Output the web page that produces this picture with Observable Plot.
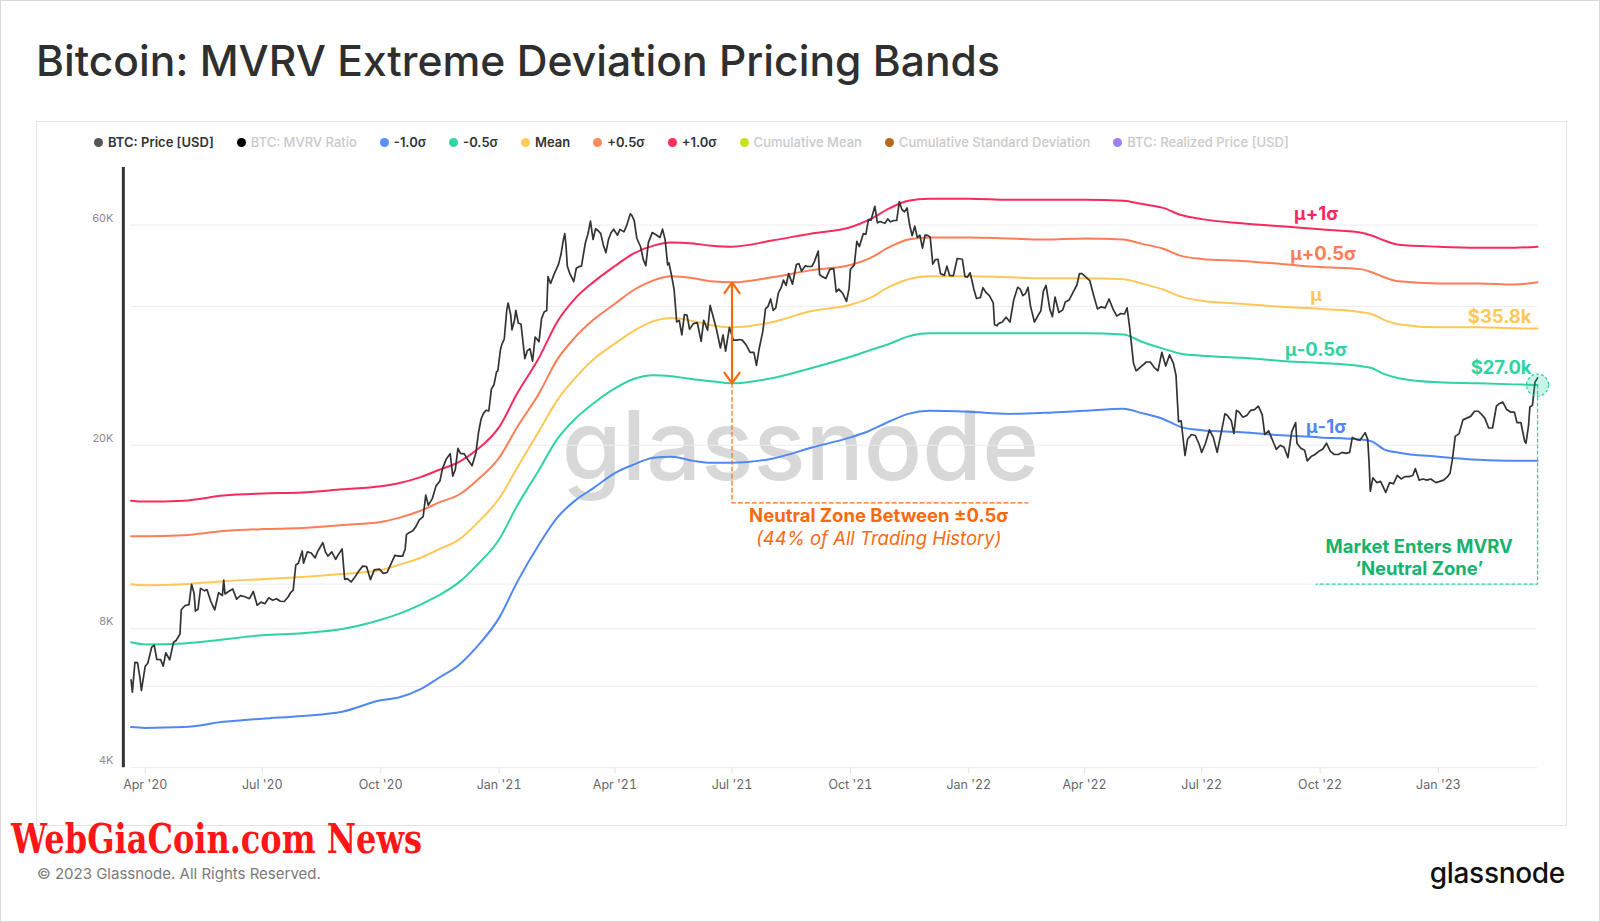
<!DOCTYPE html>
<html>
<head>
<meta charset="utf-8">
<script src="https://cdn.jsdelivr.net/npm/d3@7"></script>
<script src="https://cdn.jsdelivr.net/npm/@observablehq/plot@0.6"></script>
<style>
  html, body { margin: 0; padding: 0; background: #fff; }
  #page { position: relative; width: 1600px; height: 922px; overflow: hidden; background: #fff; box-sizing: border-box; border: 1px solid #d8d8d8; font-family: Inter, "Noto Sans", sans-serif; }
  #title { position: absolute; left: 35px; top: 35px; font-size: 42.6px; line-height: 50px; font-weight: 500; color: #2f2f2f; white-space: nowrap; }
  #panel { position: absolute; left: 35px; top: 120px; width: 1531px; height: 705px; border: 1px solid #e4e4e4; box-sizing: border-box; }
  #legend { position: absolute; left: 93px; top: 133px; height: 16px; display: flex; align-items: center; font-size: 13px; font-weight: 600; white-space: nowrap; }
  #legend .item { display: flex; align-items: center; margin-right: 23px; }
  #legend .dot { width: 9px; height: 9px; border-radius: 50%; margin-right: 5px; }
  #legend .off { color: #c9c9c9; font-weight: 500; }
  #legend .on { color: #333; }
  #chart { position: absolute; left: 0; top: 150px; }
  #brand { position: absolute; left: 0; top: 806px; overflow: visible; }
  #copy { position: absolute; left: 36px; top: 864px; font-size: 15px; line-height: 18px; color: #7a7a7a; }
  #logo { position: absolute; right: 34px; top: 856px; font-size: 28px; line-height: 32px; font-weight: 500; color: #111; letter-spacing: -0.3px; }
</style>
</head>
<body>
<div id="page">
  <div id="title">Bitcoin: MVRV Extreme Deviation Pricing Bands</div>
  <div id="panel"></div>
  <div id="legend"></div>
  <div id="chart"></div>
  <svg id="brand" width="560" height="62"><text x="10" y="46" textLength="411" lengthAdjust="spacingAndGlyphs" font-family="DejaVu Serif, serif" font-weight="bold" font-size="41" fill="#ff1616">WebGiaCoin.com News</text></svg>
  <div id="copy">© 2023 Glassnode. All Rights Reserved.</div>
  <div id="logo">glassnode</div>
</div>
<script>
// ---------- legend ----------
const legendLabels = ["BTC: Price [USD]", "BTC: MVRV Ratio", "-1.0σ", "-0.5σ", "Mean", "+0.5σ", "+1.0σ", "Cumulative Mean", "Cumulative Standard Deviation", "BTC: Realized Price [USD]"];
const legendColors = ["#555555", "#000000", "#5b8ff9", "#34d3a6", "#ffcb5e", "#ff8c5a", "#ff2d5f", "#c7e31a", "#b8681c", "#9d7ff8"];
const legendActive = [true, false, true, true, true, true, true, false, false, false];

// ---------- band data ----------
const bandDates = ["2020-03-21","2020-04-01","2020-05-01","2020-06-01","2020-07-01","2020-08-01","2020-09-01","2020-10-01","2020-10-15","2020-11-01","2020-11-15","2020-12-01","2020-12-15",
"2021-01-01","2021-01-15","2021-02-01","2021-02-15","2021-03-01","2021-03-15","2021-04-01","2021-04-15","2021-05-01","2021-05-15","2021-06-01","2021-06-15","2021-07-01","2021-08-01","2021-09-01","2021-10-01","2021-10-15","2021-11-01","2021-11-15","2021-12-01",
"2022-01-01","2022-02-01","2022-03-01","2022-04-01","2022-05-01","2022-05-15","2022-06-01","2022-06-15","2022-07-01","2022-08-01","2022-09-01","2022-10-01","2022-11-01","2022-11-10","2022-11-20","2022-12-01",
"2023-01-01","2023-02-01","2023-03-01","2023-03-19"];
const plus1 = [15170,15100,15170,15560,15720,15800,16050,16300,16550,17060,17680,18410,19570,
21890,25890,30940,36970,41570,45090,48920,51990,54160,54990,54710,54160,53880,55550,57570,59350,61500,65380,67750,68440,
68440,68100,68100,68100,67750,66720,65380,63090,61820,60570,59650,58750,57860,56990,55550,54430,
53880,53610,53610,53880];
const plus05 = [12700,12700,12760,13030,13160,13230,13430,13640,13920,14420,15020,15640,16800,
18790,21890,25890,30630,34260,37350,40520,43290,45550,46490,46020,45320,45090,46250,47930,49170,50690,53880,55840,56410,
56410,56120,55840,56120,55840,54710,53340,51470,50690,50180,49420,48670,48170,47440,46250,45320,
44860,44860,44630,45090];
const meanBand = [10000,9950,10000,10150,10250,10360,10520,10730,11010,11410,11890,12500,13570,
15330,17860,21450,24990,27950,30630,33230,35320,37160,37730,37160,36410,36040,36970,39100,40310,41570,44180,45780,46490,
46490,46250,46020,46020,45780,44860,43510,41990,41140,40520,39910,39500,38900,38510,37350,36600,
36040,36040,35860,35800];
const minus05 = [7480,7400,7440,7590,7750,7830,7990,8370,8620,9030,9450,10100,11010,
12500,14790,17680,20590,22800,24610,26560,27800,28380,28230,27800,27520,27240,27950,29410,31100,32060,33230,34430,34960,
34960,34960,34960,34960,34780,33570,32390,31580,31260,30940,30470,30160,29700,29410,28520,27950,
27380,27240,27100,27000];
const minus1 = [4900,4880,4900,5030,5110,5180,5290,5600,5680,5920,6260,6690,7330,
8450,10100,12190,13920,15170,16130,17410,18130,18790,18890,18500,18320,18320,18700,19770,20800,21450,22570,23390,23750,
23630,23390,23510,23750,23990,23510,22800,21890,21560,21340,21020,20800,20590,20390,19570,19270,
18890,18600,18500,18500];

// ---------- price data ----------
const price = [
["2020-03-21",6200],["2020-03-22",5830],["2020-03-24",6770],["2020-03-26",6760],["2020-03-28",6250],["2020-03-29",5880],["2020-04-01",6640],["2020-04-03",6740],["2020-04-06",7300],["2020-04-08",7370],["2020-04-10",6870],["2020-04-13",6860],["2020-04-15",6640],["2020-04-17",7100],["2020-04-20",6850],["2020-04-23",7480],["2020-04-25",7550],["2020-04-28",7790],["2020-04-29",8800],
["2020-05-02",8990],["2020-05-05",9030],["2020-05-07",9990],["2020-05-09",9540],["2020-05-10",8740],["2020-05-12",8820],["2020-05-14",9790],["2020-05-17",9670],["2020-05-19",9730],["2020-05-22",9170],["2020-05-25",8790],["2020-05-28",9580],["2020-05-31",9450],
["2020-06-01",10200],["2020-06-02",9520],["2020-06-05",9650],["2020-06-08",9760],["2020-06-11",9280],["2020-06-14",9440],["2020-06-17",9400],["2020-06-21",9300],["2020-06-24",9640],["2020-06-27",9000],["2020-06-30",9140],
["2020-07-03",9070],["2020-07-06",9340],["2020-07-09",9230],["2020-07-12",9300],["2020-07-15",9180],["2020-07-18",9170],["2020-07-21",9380],["2020-07-23",9590],["2020-07-25",9700],["2020-07-27",11000],["2020-07-29",11100],
["2020-08-01",11800],["2020-08-02",11100],["2020-08-05",11750],["2020-08-08",11680],["2020-08-11",11400],["2020-08-13",11770],["2020-08-17",12300],["2020-08-19",11750],["2020-08-21",11500],["2020-08-24",11750],["2020-08-27",11320],["2020-08-30",11700],
["2020-09-01",11920],["2020-09-03",10240],["2020-09-05",10280],["2020-09-08",10110],["2020-09-11",10360],["2020-09-14",10680],["2020-09-17",10940],["2020-09-20",10920],["2020-09-23",10230],["2020-09-26",10740],["2020-09-30",10780],
["2020-10-03",10550],["2020-10-06",10600],["2020-10-09",11060],["2020-10-12",11540],["2020-10-15",11500],["2020-10-18",11500],["2020-10-20",11920],["2020-10-21",12800],["2020-10-23",12930],["2020-10-26",13060],["2020-10-28",13280],["2020-10-31",13780],
["2020-11-03",14000],["2020-11-05",15590],["2020-11-07",14830],["2020-11-10",15300],["2020-11-13",16330],["2020-11-16",16730],["2020-11-18",17800],["2020-11-21",18680],["2020-11-24",19170],["2020-11-26",17150],["2020-11-28",17730],["2020-11-30",19700],
["2020-12-02",19210],["2020-12-05",19150],["2020-12-08",18550],["2020-12-11",18060],["2020-12-14",19270],["2020-12-16",21310],["2020-12-18",22800],["2020-12-20",23480],["2020-12-22",23820],["2020-12-24",23730],["2020-12-26",26460],["2020-12-28",27050],["2020-12-30",28840],["2020-12-31",29000],
["2021-01-02",32170],["2021-01-03",33000],["2021-01-05",33990],["2021-01-07",39370],["2021-01-08",40670],["2021-01-10",38360],["2021-01-11",35570],["2021-01-13",37370],["2021-01-14",39190],["2021-01-16",36770],["2021-01-18",36630],["2021-01-21",30820],["2021-01-23",32080],["2021-01-25",32370],["2021-01-27",30430],["2021-01-29",34320],
["2021-02-01",33540],["2021-02-03",37620],["2021-02-05",38900],["2021-02-07",39190],["2021-02-08",46400],["2021-02-10",44840],["2021-02-13",47170],["2021-02-16",49190],["2021-02-18",51680],["2021-02-20",55890],["2021-02-21",57500],["2021-02-22",54200],["2021-02-23",48900],["2021-02-25",47090],["2021-02-28",45240],
["2021-03-02",48380],["2021-03-04",48760],["2021-03-06",48880],["2021-03-09",54880],["2021-03-11",57330],["2021-03-13",61200],["2021-03-15",55850],["2021-03-17",58920],["2021-03-19",58340],["2021-03-21",57520],["2021-03-23",54340],["2021-03-25",52300],["2021-03-27",55860],["2021-03-29",57750],["2021-03-31",58800],
["2021-04-03",57060],["2021-04-05",58730],["2021-04-08",58010],["2021-04-10",59770],["2021-04-13",63500],["2021-04-14",63110],["2021-04-16",61340],["2021-04-18",56200],["2021-04-21",53790],["2021-04-23",50560],["2021-04-25",49000],["2021-04-27",54990],["2021-04-30",57800],
["2021-05-03",57200],["2021-05-06",56400],["2021-05-08",58800],["2021-05-10",55800],["2021-05-12",49200],["2021-05-13",49700],["2021-05-15",46700],["2021-05-17",43500],["2021-05-19",37000],["2021-05-21",37300],["2021-05-23",34700],["2021-05-25",38400],["2021-05-27",38300],["2021-05-29",35700],
["2021-06-01",36700],["2021-06-04",36900],["2021-06-07",33600],["2021-06-09",37300],["2021-06-12",35500],["2021-06-14",40200],["2021-06-16",38300],["2021-06-19",35600],["2021-06-22",32500],["2021-06-24",34700],["2021-06-26",32000],["2021-06-29",36000],
["2021-07-02",33800],["2021-07-05",33800],["2021-07-07",33900],["2021-07-09",33800],["2021-07-12",33000],["2021-07-15",31800],["2021-07-18",31800],["2021-07-20",29800],["2021-07-22",32300],["2021-07-25",35400],["2021-07-27",39500],["2021-07-29",40000],["2021-07-31",41500],
["2021-08-02",39200],["2021-08-04",39700],["2021-08-06",42800],["2021-08-08",43800],["2021-08-10",45600],["2021-08-12",44400],["2021-08-14",47100],["2021-08-17",44700],["2021-08-20",49300],["2021-08-22",49500],["2021-08-24",47700],["2021-08-27",49000],["2021-08-29",48800],
["2021-09-01",48800],["2021-09-03",50000],["2021-09-06",52700],["2021-09-07",46900],["2021-09-09",46400],["2021-09-12",46000],["2021-09-15",48100],["2021-09-18",48300],["2021-09-20",43000],["2021-09-22",43600],["2021-09-25",42700],["2021-09-28",41000],["2021-09-30",43800],
["2021-10-01",48100],["2021-10-04",49200],["2021-10-06",55300],["2021-10-08",53900],["2021-10-11",57500],["2021-10-13",57300],["2021-10-15",61700],["2021-10-17",61500],["2021-10-20",65900],["2021-10-22",60700],["2021-10-24",61100],["2021-10-26",60800],["2021-10-28",60600],["2021-10-30",61900],
["2021-11-01",61000],["2021-11-04",61400],["2021-11-06",61400],["2021-11-08",67500],["2021-11-10",64900],["2021-11-12",64100],["2021-11-14",65400],["2021-11-16",60100],["2021-11-18",56900],["2021-11-20",59700],["2021-11-22",56400],["2021-11-24",57100],["2021-11-26",53500],["2021-11-28",57100],["2021-11-30",57000],
["2021-12-02",56500],["2021-12-04",49400],["2021-12-06",50500],["2021-12-08",50600],["2021-12-10",47100],["2021-12-13",46700],["2021-12-15",48900],["2021-12-17",46700],["2021-12-20",46600],["2021-12-23",50800],["2021-12-27",50600],["2021-12-29",46400],["2021-12-31",46300],
["2022-01-02",47300],["2022-01-05",43500],["2022-01-07",41600],["2022-01-10",41800],["2022-01-12",43900],["2022-01-14",43000],["2022-01-17",42200],["2022-01-20",40700],["2022-01-21",36500],["2022-01-23",36300],["2022-01-24",36700],["2022-01-27",37000],["2022-01-30",37900],
["2022-02-02",37000],["2022-02-05",41400],["2022-02-08",44000],["2022-02-10",43600],["2022-02-12",42200],["2022-02-14",42600],["2022-02-16",44000],["2022-02-18",40000],["2022-02-21",37000],["2022-02-24",38300],["2022-02-26",39100],["2022-02-28",43200],
["2022-03-02",44400],["2022-03-05",39400],["2022-03-07",38000],["2022-03-09",41900],["2022-03-12",38800],["2022-03-15",39300],["2022-03-17",40900],["2022-03-20",41300],["2022-03-23",42900],["2022-03-26",44500],["2022-03-28",47100],["2022-03-30",47100],
["2022-04-02",46300],["2022-04-05",45500],["2022-04-08",42300],["2022-04-11",39500],["2022-04-14",39900],["2022-04-17",39700],["2022-04-20",41500],["2022-04-23",39500],["2022-04-26",38100],["2022-04-29",38600],
["2022-05-02",38500],["2022-05-04",39700],["2022-05-06",36000],["2022-05-09",30100],["2022-05-11",29000],["2022-05-13",29300],["2022-05-16",29800],["2022-05-19",30300],["2022-05-22",30300],["2022-05-25",29500],["2022-05-28",29000],["2022-05-31",31800],
["2022-06-03",29700],["2022-06-06",31400],["2022-06-09",30100],["2022-06-11",28400],["2022-06-13",22500],["2022-06-15",22600],["2022-06-18",19000],["2022-06-20",20600],["2022-06-23",21100],["2022-06-26",21000],["2022-06-29",20100],
["2022-07-01",19300],["2022-07-04",20200],["2022-07-07",21600],["2022-07-10",20800],["2022-07-13",19300],["2022-07-16",21200],["2022-07-19",23400],["2022-07-21",23200],["2022-07-24",22600],["2022-07-26",21200],["2022-07-28",23800],["2022-07-30",23600],
["2022-08-02",23000],["2022-08-05",23200],["2022-08-08",23800],["2022-08-11",23900],["2022-08-14",24300],["2022-08-17",23300],["2022-08-19",21100],["2022-08-22",21500],["2022-08-26",20200],["2022-08-28",19600],["2022-08-31",20000],
["2022-09-03",19800],["2022-09-06",18800],["2022-09-09",21400],["2022-09-12",22400],["2022-09-13",20200],["2022-09-16",19700],["2022-09-19",19500],["2022-09-21",18500],["2022-09-24",18900],["2022-09-27",19100],["2022-09-30",19400],
["2022-10-03",19600],["2022-10-06",20200],["2022-10-09",19400],["2022-10-12",19100],["2022-10-15",19100],["2022-10-18",19300],["2022-10-21",19200],["2022-10-24",19300],["2022-10-26",20800],["2022-10-29",20600],
["2022-11-01",20500],["2022-11-05",21300],["2022-11-07",20600],["2022-11-08",18500],["2022-11-09",15900],["2022-11-11",17000],["2022-11-14",16600],["2022-11-17",16700],["2022-11-21",15800],["2022-11-24",16600],["2022-11-27",16500],["2022-11-30",17200],
["2022-12-03",16900],["2022-12-06",17100],["2022-12-09",17100],["2022-12-12",17200],["2022-12-14",17800],["2022-12-17",16800],["2022-12-20",16900],["2022-12-23",16800],["2022-12-26",16900],["2022-12-30",16600],
["2023-01-02",16700],["2023-01-05",16800],["2023-01-08",17100],["2023-01-10",17400],["2023-01-12",18800],["2023-01-14",20900],["2023-01-17",21200],["2023-01-20",22700],["2023-01-23",22900],["2023-01-26",23100],["2023-01-29",23700],
["2023-02-01",23700],["2023-02-03",23400],["2023-02-06",22900],["2023-02-09",21800],["2023-02-12",21800],["2023-02-15",24300],["2023-02-17",24600],["2023-02-20",24800],["2023-02-23",23900],["2023-02-26",23600],
["2023-03-01",23600],["2023-03-03",22400],["2023-03-06",22400],["2023-03-09",20400],["2023-03-10",20200],["2023-03-12",22100],["2023-03-13",24200],["2023-03-15",24400],["2023-03-17",27400],["2023-03-19",28000]
];

// ---------- axes ----------
const xDomain = ["2020-03-15", "2023-03-19"];
const xTicks = ["2020-04-01","2020-07-01","2020-10-01","2021-01-01","2021-04-01","2021-07-01","2021-10-01","2022-01-01","2022-04-01","2022-07-01","2022-10-01","2023-01-01"];
const yDomain = [4000, 80000];
const yLabelTicks = [4000, 8000, 20000, 60000];
const yTickLabels = ["4K", "8K", "20K", "60K"];
const yGridTicks = [4000, 6000, 8000, 10000, 20000, 40000, 60000];

// ---------- annotations ----------
const bandLabels = [
  {text: "μ+1σ", band: "plus1", date: "2022-10-01", dx: -4, dy: -15},
  {text: "μ+0.5σ", band: "plus05", date: "2022-10-01", dx: 3, dy: -13},
  {text: "μ", band: "mean", date: "2022-10-01", dx: -4, dy: -14},
  {text: "μ-0.5σ", band: "minus05", date: "2022-10-01", dx: -4, dy: -13},
  {text: "μ-1σ", band: "minus1", date: "2022-10-01", dx: 6, dy: -10}
];
const endLabels = [
  {text: "$35.8k", band: "mean", dy: -12},
  {text: "$27.0k", band: "minus05", dy: -17}
];
const neutralDate = "2021-07-01";
const neutralFloor = 15000;
const neutralLineEnd = "2022-02-16";
const neutralTextDate = "2021-10-23";
const neutralText = ["Neutral Zone Between ±0.5σ", "(44% of All Trading History)"];
const marketFloor = 10000;
const marketLineStart = "2022-09-28";
const marketTextDate = "2022-12-17";
const marketText = ["Market Enters MVRV", "‘Neutral Zone’"];

// ---------- build ----------
const legend = document.getElementById("legend");
legendLabels.forEach((l, i) => {
  const it = document.createElement("div");
  it.className = "item";
  it.innerHTML = `<span class="dot" style="background:${legendColors[i]}"></span><span class="${legendActive[i] ? "on" : "off"}">${l}</span>`;
  legend.appendChild(it);
});

const D = s => new Date(s);
const bands = {
  plus1: {values: plus1, color: "#f72a5c"},
  plus05: {values: plus05, color: "#ff7d56"},
  mean: {values: meanBand, color: "#ffc757"},
  minus05: {values: minus05, color: "#2fd3a2"},
  minus1: {values: minus1, color: "#4f87f7"}
};
const bandRows = key => bandDates.map((d, i) => ({date: D(d), value: bands[key].values[i]}));
const bandAt = (key, date) => bands[key].values[bandDates.indexOf(date)];
const lastIdx = bandDates.length - 1;
const priceRows = price.map(([d, v]) => ({date: D(d), value: v}));

const orange = "#f76b0f";
const green = "#16b36c";
const teal = "#2fd3a2";
const fs = 18.5;

const neutralTop = bandAt("plus05", neutralDate);
const neutralBottom = bandAt("minus05", neutralDate);
const neutralMid = Math.sqrt(neutralTop * neutralBottom);
const endDate = D(bandDates[lastIdx]);
const endTeal = minus05[lastIdx];
const axisStart = D(xDomain[0]);

const marks = [
  Plot.text(["glassnode"], {frameAnchor: "middle", dx: -30, dy: -19, fontSize: 97, fontWeight: 500, fill: "#d8d8d8", fontFamily: "Inter, sans-serif"}),
  Plot.ruleY(yGridTicks, {x1: D(bandDates[0]), x2: endDate, stroke: "#ececec", strokeWidth: 1}),
  ...Object.keys(bands).map(k => Plot.line(bandRows(k), {x: "date", y: "value", stroke: bands[k].color, strokeWidth: 2, curve: "monotone-x"})),
  Plot.line(priceRows, {x: "date", y: "value", stroke: "#333", strokeWidth: 1.7}),
  // neutral zone annotation
  Plot.line([{x: D(neutralDate), y: neutralBottom}, {x: D(neutralDate), y: neutralFloor}, {x: D(neutralLineEnd), y: neutralFloor}], {x: "x", y: "y", stroke: orange, strokeWidth: 1.2, strokeDasharray: "4,3"}),
  Plot.arrow([{x: D(neutralDate), y1: neutralMid, y2: neutralTop}, {x: D(neutralDate), y1: neutralMid, y2: neutralBottom}], {x: "x", y1: "y1", y2: "y2", stroke: orange, strokeWidth: 2.2, headLength: 9, headAngle: 70}),
  Plot.text([neutralText[0]], {x: D(neutralTextDate), y: neutralFloor, dy: 13, fill: orange, fontSize: fs, fontWeight: 700}),
  Plot.text([neutralText[1]], {x: D(neutralTextDate), y: neutralFloor, dy: 36, fill: orange, fontSize: fs, fontStyle: "italic"}),
  // market enters annotation
  Plot.line([{x: endDate, y: endTeal}, {x: endDate, y: marketFloor}, {x: D(marketLineStart), y: marketFloor}], {x: "x", y: "y", stroke: teal, strokeWidth: 1.3, strokeDasharray: "3,3"}),
  Plot.dot([{x: endDate, y: endTeal}], {x: "x", y: "y", r: 11, fill: teal, fillOpacity: 0.25, stroke: teal, strokeWidth: 1.2, strokeDasharray: "3,2"}),
  Plot.text([marketText[0]], {x: D(marketTextDate), y: marketFloor, dy: -37, fill: green, fontSize: fs, fontWeight: 700}),
  Plot.text([marketText[1]], {x: D(marketTextDate), y: marketFloor, dy: -15, fill: green, fontSize: fs, fontWeight: 700}),
  // band labels
  ...bandLabels.map(l => Plot.text([l.text], {x: D(l.date), y: bandAt(l.band, l.date), dx: l.dx, dy: l.dy, fill: bands[l.band].color, fontSize: fs, fontWeight: 700})),
  ...endLabels.map(l => Plot.text([l.text], {x: endDate, y: bands[l.band].values[lastIdx], dx: -6, dy: l.dy, textAnchor: "end", fill: bands[l.band].color, fontSize: fs, fontWeight: 700})),
  // axes
  Plot.ruleX([axisStart], {y1: yDomain[0], y2: yDomain[1], stroke: "#333", strokeWidth: 3}),
  Plot.axisX({ticks: xTicks.map(D), tickFormat: d3.utcFormat("%b '%y"), tickSize: 6, tickPadding: 6, stroke: "#e2e2e2", fill: "#666", fontSize: 12.5}),
  Plot.text(yLabelTicks, {x: axisStart, y: d => d, text: (d, i) => yTickLabels[i], textAnchor: "end", dx: -10, dy: -7, fill: "#8c8c8c", fontSize: 11})
];

const chart = Plot.plot({
  width: 1600,
  height: 650,
  marginTop: 16,
  marginBottom: 33,
  marginLeft: 122,
  marginRight: 62,
  style: {background: "transparent", fontFamily: "Inter, sans-serif", overflow: "visible"},
  x: {type: "utc", domain: xDomain.map(D)},
  y: {type: "log", domain: yDomain, axis: null},
  marks
});
document.getElementById("chart").appendChild(chart);
</script>
</body>
</html>
